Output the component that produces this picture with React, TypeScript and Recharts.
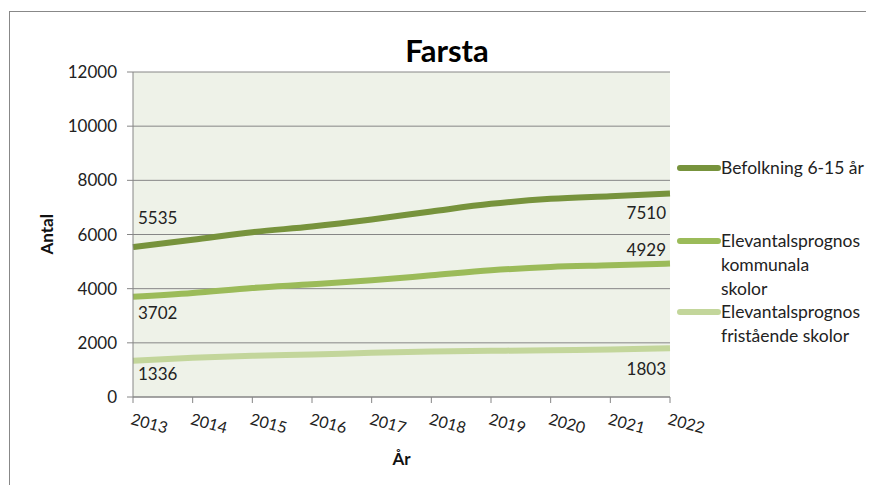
import { CartesianGrid, Legend, Line, LineChart, XAxis, YAxis } from 'recharts';

const years = ['2013', '2014', '2015', '2016', '2017', '2018', '2019', '2020', '2021', '2022'];
const befolkning = [5535, 5803, 6086, 6295, 6554, 6849, 7132, 7317, 7415, 7510];
const kommunala = [3702, 3840, 4025, 4160, 4308, 4492, 4677, 4800, 4862, 4929];
const fristaende = [1336, 1446, 1520, 1570, 1630, 1680, 1705, 1730, 1754, 1803];
const yTicks = [0, 2000, 4000, 6000, 8000, 10000, 12000];

const rows = years.map((year, i) => ({
  year,
  befolkning: befolkning[i],
  kommunala: kommunala[i],
  fristaende: fristaende[i],
}));

const FONT = 'Lato, "Noto Sans", sans-serif';

const series = [
  { key: 'befolkning', name: 'Befolkning 6-15 år', color: '#77933C', lines: ['Befolkning 6-15 år'], top: 10, first: -30, last: 19 },
  { key: 'kommunala', name: 'Elevantalsprognos kommunala skolor', color: '#9BBB59', lines: ['Elevantalsprognos', 'kommunala', 'skolor'], top: 83, first: 16, last: -14 },
  { key: 'fristaende', name: 'Elevantalsprognos fristående skolor', color: '#C3D69B', lines: ['Elevantalsprognos', 'fristående skolor'], top: 154, first: 13, last: 20 },
];

// only the first and last points get a value label
function endLabel(firstDy: number, lastDy: number) {
  return (props: any) => {
    const { x, y, value, index } = props;
    if (index !== 0 && index !== years.length - 1) return null;
    const first = index === 0;
    return (
      <text
        x={first ? x + 5 : x - 4}
        y={y + (first ? firstDy : lastDy)}
        textAnchor={first ? 'start' : 'end'}
        dominantBaseline="central"
        fontSize={17}
        fontFamily={FONT}
        fill="#222"
      >
        {value}
      </text>
    );
  };
}

function YearTick(props: any) {
  const { x, y, payload } = props;
  const tx = x - 3;
  const ty = y + 19;
  return (
    <text x={tx} y={ty} transform={`rotate(15, ${tx}, ${ty})`} fontSize={16} fontFamily={FONT} fill="#222" textAnchor="start">
      {payload.value}
    </text>
  );
}

function LegendBox() {
  return (
    <div style={{ position: 'relative', width: 200, height: 220, fontFamily: FONT, fontSize: 17.5, color: '#222' }}>
      {series.map((s) => (
        <div key={s.key} style={{ position: 'absolute', top: s.top - 12, left: 0 }}>
          <div style={{ position: 'absolute', left: 0, top: 9, width: 44, height: 6, borderRadius: 3, background: s.color }} />
          <div style={{ marginLeft: 44, lineHeight: '24px', whiteSpace: 'nowrap' }}>
            {s.lines.map((l) => (
              <div key={l}>{l}</div>
            ))}
          </div>
        </div>
      ))}
    </div>
  );
}

export default function App() {
  return (
    <div style={{ position: 'relative', width: 874, height: 493, margin: -8, overflow: 'hidden', background: '#fff' }}>
      <div style={{ position: 'absolute', left: 0, top: -13, fontFamily: FONT, fontWeight: 700, fontSize: 24, lineHeight: '24px' }}>
        Farsta
      </div>
      <div style={{ position: 'absolute', left: 9, top: 11, width: 900, height: 600, border: '1.5px solid #888' }} />
      <div style={{ position: 'absolute', left: 347, width: 200, top: 33, textAlign: 'center', fontFamily: FONT, fontWeight: 700, fontSize: 31, lineHeight: '34px' }}>
        Farsta
      </div>
      <div style={{ position: 'absolute', left: 0, top: 0 }}>
        <LineChart width={874} height={493} data={rows} margin={{ top: 72, right: 204, bottom: 36, left: 73 }}>
          <CartesianGrid vertical={false} stroke="#868686" strokeWidth={1} fill="#EEF2E8" />
          <XAxis
            dataKey="year"
            height={60}
            tick={<YearTick />}
            tickSize={6}
            axisLine={{ stroke: '#868686' }}
            tickLine={{ stroke: '#868686' }}
            interval={0}
            label={{ value: 'År', position: 'insideBottom', offset: 2, dy: 10, fontFamily: FONT, fontWeight: 700, fontSize: 17, fill: '#111' }}
          />
          <YAxis
            width={60}
            domain={[0, 12000]}
            ticks={yTicks}
            interval={0}
            tickSize={6}
            tickMargin={10}
            axisLine={{ stroke: '#868686' }}
            tickLine={{ stroke: '#868686' }}
            tick={{ fontFamily: FONT, fontSize: 17, fill: '#222' }}
            label={{ value: 'Antal', angle: -90, position: 'insideLeft', offset: -26, fontFamily: FONT, fontWeight: 700, fontSize: 17, fill: '#111', dy: 20 }}
          />
          <Legend
            layout="vertical"
            align="center"
            verticalAlign="middle"
            content={() => <LegendBox />}
            wrapperStyle={{ left: 677, top: 158, width: 200 }}
          />
          {series.map((s) => (
            <Line
              key={s.key}
              dataKey={s.key}
              name={s.name}
              type="monotone"
              stroke={s.color}
              strokeWidth={6}
              dot={false}
              activeDot={false}
              isAnimationActive={false}
              label={endLabel(s.first, s.last)}
            />
          ))}
        </LineChart>
      </div>
    </div>
  );
}
